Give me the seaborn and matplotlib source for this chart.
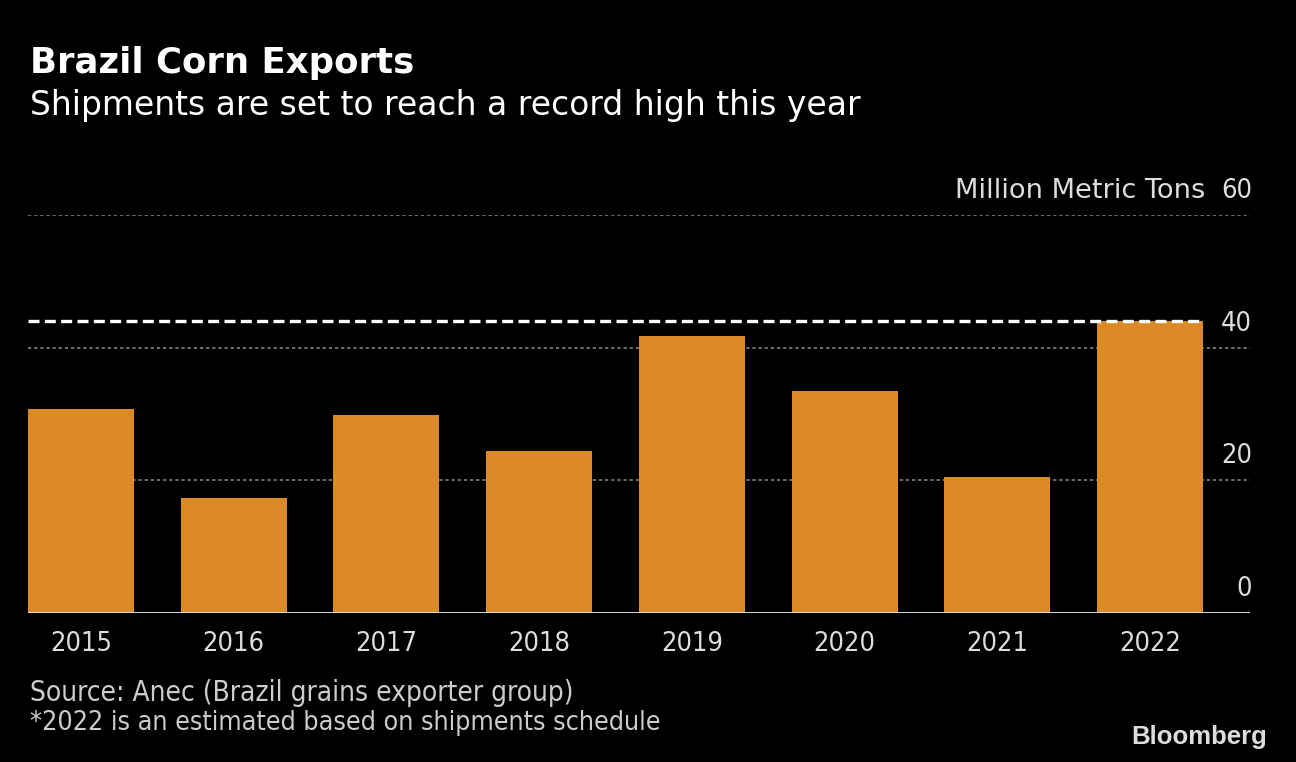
import matplotlib
matplotlib.use("Agg")
import matplotlib.pyplot as plt
import matplotlib.transforms as mtransforms
import seaborn as sns
import pandas as pd

# ---- data ----
years = ["2015", "2016", "2017", "2018", "2019", "2020", "2021", "2022"]
exports = [30.8, 17.4, 29.8, 24.4, 41.7, 33.5, 20.5, 44.0]
record_level = 44.0
y_ticks = [0, 20, 40, 60]
y_tick_labels = ["0", "20", "40", "60"]
unit_label = "Million Metric Tons"

title = "Brazil Corn Exports"
subtitle = "Shipments are set to reach a record high this year"
source = "Source: Anec (Brazil grains exporter group)"
note = "*2022 is an estimated based on shipments schedule"

BAR = "#dc8a27"
TXT = "#dddddd"

sns.set_theme(style="dark")
plt.rcParams["font.family"] = ["DejaVu Sans"]

df = pd.DataFrame({"year": years, "exports": exports})

fig = plt.figure(figsize=(12.96, 7.62), dpi=100, facecolor="black")
ax = fig.add_axes([0.0216, 0.1955, 0.9429, 0.5223])
ax.set_facecolor("black")

sns.barplot(data=df, x="year", y="exports", color=BAR, saturation=1,
            width=0.694, edgecolor="none", ax=ax, zorder=2)

half = 0.694 / 2
ax.set_xlim(-half, len(years) - 1 + 0.655)
ax.set_ylim(0, 60)

for v in y_ticks[1:]:
    ax.axhline(v, color="#787878", lw=1.3, ls=(0, (1.8, 1.6)), zorder=1)
ax.axhline(0, color="#dddddd", lw=1.4, zorder=3)
ax.hlines(record_level, -half, len(years) - 1 + half, colors="white",
          lw=2.4, linestyles=(0, (3.3, 1.6)), zorder=4)

for s in ax.spines.values():
    s.set_visible(False)
ax.set_yticks([])
ax.set_xlabel("")
ax.set_ylabel("")
ax.tick_params(axis="x", length=0, pad=13, labelsize=19.5, colors=TXT)
for lab in ax.get_xticklabels():
    lab.set_fontstretch("condensed")

trans = mtransforms.blended_transform_factory(ax.transAxes, ax.transData) + \
    mtransforms.ScaledTranslation(0.02, 0.17, fig.dpi_scale_trans)
for v, lab in zip(y_ticks, y_tick_labels):
    ax.text(1.0, v, lab, transform=trans, ha="right", va="baseline",
            fontsize=19.5, color=TXT, fontstretch="condensed")
trans_unit = mtransforms.blended_transform_factory(ax.transAxes, ax.transData) + \
    mtransforms.ScaledTranslation(-0.45, 0.17, fig.dpi_scale_trans)
ax.text(1.0, y_ticks[-1], unit_label, transform=trans_unit, ha="right",
        va="baseline", fontsize=19.6, color=TXT)

fig.text(0.023, 0.917, title, fontsize=25.6, fontweight="bold", color="white",
         va="center", ha="left")
fig.text(0.023, 0.862, subtitle, fontsize=23.8, color="white",
         va="center", ha="left")
fig.text(0.023, 0.0906, source, fontsize=20.1, color="#cccccc",
         va="center", ha="left", fontstretch="condensed")
fig.text(0.023, 0.051, note, fontsize=19.3, color="#cccccc",
         va="center", ha="left", fontstretch="condensed")
fig.text(0.978, 0.033, "Bloomberg", fontsize=18.5, fontweight="bold",
         color="#dddddd", va="center", ha="right",
         family=["Liberation Sans", "DejaVu Sans"])

fig.savefig("out.png", dpi=100, facecolor="black")
